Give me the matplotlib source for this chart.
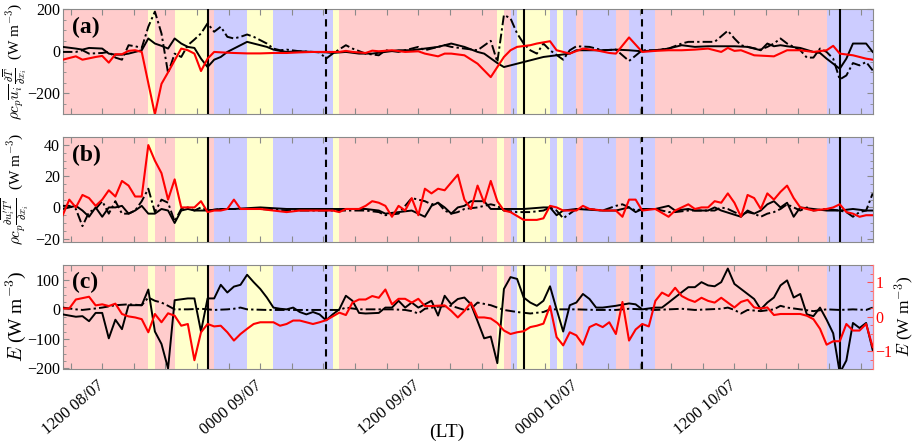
import numpy as np
import matplotlib
matplotlib.use("Agg")
import matplotlib.pyplot as plt
from matplotlib.ticker import MultipleLocator

plt.rcParams['font.family'] = ['Liberation Serif', 'DejaVu Serif']
plt.rcParams['mathtext.fontset'] = 'cm'

# ---------------- data (time in hours since 0000 08/07, LT) ----------------
# (a) advection term
a_solid_t = [9.0, 10.0, 10.5, 11.0, 12.0, 12.5, 13.0, 13.5, 14.0, 14.5, 15.0, 15.5, 16.0, 16.5, 17.0, 17.5,
             18.0, 18.5, 19.0, 19.5, 20.0, 20.5, 21.0, 21.5, 22.0, 22.5, 23.0, 23.5, 24.0, 24.5, 25.0, 25.5,
             26.0, 27.0, 28.0, 29.0, 29.5, 30.5, 31.5, 32.5, 33.5, 34.5, 35.5, 36.5, 37.5, 38.5, 39.5, 40.5,
             41.0, 42.0, 42.5, 43.0, 43.5, 44.5, 45.5, 46.5, 47.5, 48.0, 49.0, 50.0, 51.0, 52.0, 53.0, 54.0,
             55.0, 56.0, 57.0, 58.0, 59.0, 60.0, 61.0, 62.0, 62.5, 63.0, 63.5, 64.0, 65.0, 66.0, 66.5, 67.0,
             68.0, 68.5, 69.0, 70.0, 70.5]
a_solid_v = [21, 13, 8, 16, 13, -11, -16, -16, -11, -3, 5, 61, 37, 26, 13, 61,
             37, 21, 16, -35, -75, -40, -27, -3, 13, 29, 45, 37, 29, 21, 8, 2,
             -3, 0, -3, -5, -8, -3, -11, -11, -3, 5, 5, 13, 21, 37, 21, -3,
             -11, -56, -75, -67, -59, -43, -27, -19, -11, 5, 5, 5, 8, 5, 0, 5,
             13, 29, 21, 24, 24, 24, 21, 5, 37, 24, 29, 24, 16, -3, -8, -35,
             -83, -35, 37, 37, -3]

a_dash_t = [9.0, 10.0, 10.5, 11.0, 12.0, 12.5, 13.0, 13.5, 14.0, 14.5, 15.0, 15.5, 16.0, 16.5, 17.0, 17.5,
            18.0, 18.5, 19.0, 19.5, 20.0, 20.5, 21.0, 21.5, 22.0, 22.5, 23.0, 23.5, 24.0, 24.5, 25.0, 25.5,
            26.0, 27.0, 28.0, 28.5, 29.0, 29.5, 30.5, 31.0, 32.0, 33.0, 33.5, 34.5, 35.5, 36.0, 36.5, 37.0,
            38.0, 38.5, 39.5, 40.5, 41.5, 42.0, 42.5, 43.0, 43.5, 44.0, 44.5, 45.0, 45.5, 46.0, 47.0, 47.5,
            48.0, 49.0, 50.0, 51.0, 52.0, 53.0, 54.0, 55.0, 56.0, 56.5, 57.5, 58.5, 59.5, 60.0, 60.5, 61.0,
            62.0, 62.5, 63.0, 63.5, 64.0, 64.5, 65.0, 65.5, 66.0, 66.5, 67.0, 67.5, 68.0, 68.5, 69.0, 69.5,
            70.0, 70.5]
a_dash_v = [-3, -3, 5, -11, -8, -3, -30, -40, 29, 24, 16, 117, 189, 85, -104, -11,
            -27, 29, 56, 85, 133, 93, 117, 69, 61, 69, 80, 69, 53, 37, 13, 5,
            8, 0, -3, -5, -35, -11, 29, 13, -11, -19, 5, -3, 13, 21, 5, 13,
            29, 21, 13, 5, 50, -51, 173, 157, 85, 37, 5, -11, 37, 5, -40, 5,
            24, 21, 5, 8, -46, 5, 5, 13, 37, 45, 45, 45, 98, 61, 29, 21,
            8, 21, 37, 61, 37, 21, 5, -30, -30, 13, -3, -35, -134, -115, -56, -67,
            -51, -91]

a_red_t = [9.0, 10.0, 10.5, 11.5, 12.0, 12.5, 13.0, 13.5, 14.0, 14.5, 15.0, 16.0, 16.5, 17.0, 17.5, 18.0,
           18.5, 19.0, 19.5, 20.0, 20.5, 21.0, 22.0, 23.0, 24.0, 25.0, 26.0, 27.0, 28.0, 29.0, 30.0, 30.5,
           31.0, 32.0, 32.5, 33.0, 34.0, 35.0, 36.0, 36.5, 37.5, 38.0, 38.5, 39.5, 40.5, 41.5, 42.5, 43.0,
           43.5, 44.5, 45.0, 46.0, 46.5, 47.5, 48.5, 49.5, 50.5, 51.0, 52.0, 53.0, 54.0, 55.0, 56.0, 57.0,
           58.0, 59.0, 59.5, 60.0, 60.5, 61.5, 63.0, 64.0, 65.0, 66.0, 67.0, 67.5, 68.0, 69.0, 70.0, 70.5]
a_red_v = [-40, -24, -40, -27, -22, -54, -14, -14, 2, 5, -3, -300, -155, -100, -43, 13,
           5, -11, -94, -35, -3, -5, -8, -10, -10, -8, -8, -5, -3, -3, -3, 2,
           -3, -8, 3, 0, 5, -3, 0, -11, -24, -11, -11, -19, -59, -123, -27, 5,
           21, 29, 37, 48, 5, -11, 13, 5, -8, -11, 66, -3, 2, 5, 5, 8,
           13, -3, 16, 2, 5, -19, -24, 5, 5, -3, 5, 26, -11, -19, -35, -40]

# (b) turbulent flux divergence term
b_solid_t = [9.0, 9.5, 10.0, 10.5, 11.0, 11.5, 12.0, 12.5, 13.0, 13.5, 14.0, 14.5, 15.0, 15.5, 16.0, 16.5,
             17.0, 17.5, 18.0, 18.5, 19.0, 20.0, 21.0, 22.0, 24.0, 26.0, 27.0, 30.0, 32.0, 33.0, 33.5, 34.5,
             35.5, 36.5, 37.0, 37.5, 38.0, 38.5, 39.0, 39.5, 40.0, 40.5, 41.0, 41.5, 42.5, 44.0, 45.5, 46.0,
             46.5, 47.0, 48.0, 50.0, 51.0, 52.0, 52.5, 53.0, 54.0, 55.0, 55.5, 56.5, 57.0, 58.0, 58.5, 59.0,
             60.5, 61.0, 61.5, 62.0, 62.5, 63.0, 63.5, 64.0, 64.5, 65.0, 66.0, 67.0, 68.0, 69.0, 70.0, 70.5]
b_solid_v = [-1, 0, 1, -2, -6, 0, -6, 0, 0, 1, -4, -2, 1, -4, -4, -1,
             -2, -10, -2, -1, -2, -2, -1, -1, 0, -1, -1, -1, -1, -2, -4, -3,
             -2, -6, 1, 3, 0, -4, 0, 1, 4, 4, 4, -1, -1, -1, 0, 0,
             -5, -2, -1, -2, -2, 0, -3, -1, -1, 1, -2, -1, -2, -2, 0, -2,
             -6, -2, -4, -2, 2, 4, 0, 3, -6, 0, -1, -2, -2, -1, -2, -2]

b_dash_t = [9.0, 9.5, 10.0, 10.5, 11.0, 11.5, 12.0, 12.5, 13.0, 13.5, 14.0, 14.5, 15.0, 15.5, 16.0, 16.5,
            17.0, 17.5, 18.0, 18.5, 19.0, 19.5, 20.0, 21.0, 22.0, 24.0, 26.0, 28.0, 30.0, 32.0, 33.0, 33.5,
            34.5, 35.5, 36.5, 37.0, 37.5, 38.0, 38.5, 39.0, 39.5, 40.5, 41.5, 42.0, 42.5, 43.5, 44.5, 45.5,
            46.0, 46.5, 47.0, 48.0, 49.0, 50.0, 51.0, 51.5, 52.0, 52.5, 53.0, 54.0, 55.0, 55.5, 56.5, 57.5,
            58.5, 59.0, 59.5, 60.5, 61.0, 61.5, 62.0, 62.5, 63.0, 63.5, 64.0, 64.5, 65.0, 65.5, 66.0, 67.0,
            68.0, 68.5, 69.0, 69.5, 70.0, 70.5]
b_dash_v = [1, 1, -1, -12, -3, -1, 4, -4, 4, -4, -4, -2, 4, 12, -3, 5,
            3, -9, -1, 0, -2, 0, -2, -1, -1, -1, -2, -2, -2, -2, -3, -5,
            -4, 6, 4, 2, 3, -2, -4, -3, -1, 0, 2, 1, -2, -3, -3, -2,
            0, -2, -7, -1, -1, -2, 1, 2, 0, -2, -1, -1, -3, -3, -2, -2,
            -2, 0, -1, -5, -3, -4, -6, -4, -3, -1, 2, 0, -2, 0, -2, -1,
            -2, -3, -6, -3, -2, 9]

b_red_t = [9.0, 9.5, 10.0, 10.5, 11.0, 11.5, 12.0, 12.5, 13.0, 13.5, 14.0, 14.5, 15.0, 15.5, 16.0, 16.5,
           17.0, 17.5, 18.0, 18.5, 19.0, 19.5, 20.0, 20.5, 21.0, 21.5, 22.0, 22.5, 23.0, 24.0, 25.0, 26.0,
           27.0, 28.5, 29.5, 30.0, 30.5, 31.5, 32.0, 32.5, 33.0, 33.5, 34.0, 34.5, 35.0, 35.5, 36.0, 36.5,
           37.0, 37.5, 38.0, 39.0, 39.5, 40.0, 40.5, 41.0, 41.5, 42.0, 42.5, 43.0, 44.0, 45.0, 45.5, 46.0,
           46.5, 47.0, 48.0, 48.5, 49.0, 50.0, 51.0, 51.5, 52.0, 52.5, 53.0, 54.0, 55.0, 55.5, 56.5, 57.0,
           57.5, 58.0, 58.5, 59.0, 59.5, 60.0, 60.5, 61.0, 61.5, 62.0, 62.5, 63.0, 63.5, 64.0, 64.5, 65.0,
           66.0, 67.0, 67.5, 68.0, 68.5, 69.0, 69.5, 70.0, 70.5]
b_red_v = [-5, 5, 0, 8, 6, 1, 5, 11, 7, 17, 14, 7, 7, 40, 30, 22,
           5, 18, 0, 0, 0, 4, -3, -2, -2, -1, 5, -1, -1, -1, -2, -3,
           -2, -2, -2, -3, -1, -1, 1, 4, 3, 1, -6, 1, -2, 6, -5, 12,
           9, 12, 11, 21, 5, -1, 14, 3, 17, 4, -2, -3, -8, -8, -7, 1,
           0, -2, -2, 1, -1, -2, -2, -6, 5, 5, -2, -1, -6, -2, 2, -1,
           0, 0, 4, 3, 9, 3, -6, 8, 6, -1, 9, 5, 10, 14, 6, 0,
           -2, -1, 0, 2, -3, -4, -6, -5, -5]

# (c) E, left axis (black) and right axis (red)
c_solid_t = [9.0, 9.5, 10.0, 10.5, 11.0, 11.5, 12.0, 12.5, 13.0, 13.5, 14.0, 14.5, 15.0, 15.5, 16.0, 16.5,
             17.0, 17.5, 18.0, 18.5, 19.0, 19.5, 20.0, 20.5, 21.0, 21.5, 22.0, 22.5, 23.0, 23.5, 24.0, 24.5,
             25.0, 25.5, 26.0, 26.5, 27.0, 27.5, 28.0, 28.5, 29.0, 29.5, 30.0, 30.5, 31.0, 31.5, 32.0, 33.0,
             33.5, 34.0, 34.5, 35.0, 35.5, 36.0, 36.5, 37.0, 37.5, 38.0, 38.5, 39.0, 39.5, 40.0, 40.5, 41.0,
             41.5, 42.0, 42.5, 43.0, 43.5, 44.0, 44.5, 45.0, 45.5, 46.0, 46.5, 47.0, 47.5, 48.0, 48.5, 49.0,
             49.5, 50.0, 51.0, 52.0, 52.5, 53.0, 54.0, 54.5, 55.0, 56.0, 56.5, 57.0, 57.5, 58.0, 58.5, 59.0,
             59.5, 60.0, 60.5, 61.0, 61.5, 62.0, 62.5, 63.0, 63.5, 64.0, 64.5, 65.0, 65.5, 66.0, 66.5, 67.0,
             67.5, 68.0, 68.5, 69.0, 69.5, 70.0, 70.5]
c_solid_v = [-17, -21, -25, -23, -40, -12, -12, -98, -35, -67, 14, 14, 14, 67, -75, -117,
             -200, 31, 34, 37, 37, -75, 37, 37, 83, 57, 77, 83, 117, 92, 69, 40,
             6, 2, 0, 6, -9, -17, -9, -17, -37, -17, 0, 46, 29, -12, -14, -12,
             6, 6, 29, 6, 23, 6, 17, 29, -21, 46, 17, 35, 40, 17, -40, -98,
             -92, -182, 69, 109, 103, 40, 23, 12, 29, 78, 0, -75, 14, 23, 52, 35,
             6, 6, 12, 20, 17, 0, 6, 6, 23, 58, 75, 75, 92, 81, 78, 92,
             138, 86, 69, 52, 35, 0, 23, 40, 81, 98, 40, 52, -17, -23, 6, -35,
             -81, -215, -173, -46, -63, -46, -138]

c_dash_t = [9.0, 10.0, 10.5, 11.5, 12.0, 13.0, 14.0, 15.0, 15.5, 16.0, 16.5, 17.0, 17.5, 18.5, 19.5, 20.5,
            21.5, 22.0, 22.5, 23.0, 24.5, 26.5, 28.0, 29.0, 30.0, 30.5, 31.5, 33.0, 34.0, 35.0, 35.5, 36.0,
            36.5, 37.5, 38.5, 39.5, 40.0, 40.5, 41.5, 42.5, 43.5, 44.5, 45.5, 46.0, 47.0, 48.0, 49.5, 51.0,
            52.0, 53.0, 54.0, 55.0, 56.0, 57.0, 58.0, 59.0, 59.5, 60.0, 60.5, 61.0, 62.0, 63.0, 63.5, 64.0,
            65.0, 66.0, 67.0, 68.0, 69.0, 70.0, 70.5]
c_dash_v = [6, 0, -2, 3, 6, 14, 17, 14, 40, 29, 23, 12, 0, 0, 2, -2,
            0, 2, 6, 0, -2, -2, -2, -2, -2, 6, 0, 0, 0, -2, -6, -14,
            2, 9, 12, -2, 2, 23, 14, -2, -9, -14, -9, 0, 0, 0, -2, -2,
            2, 0, -2, 0, 2, -2, 0, 2, 6, -2, -14, -2, -6, 0, 12, 6,
            0, -6, 0, -2, 0, -2, 6]

c_red_t = [9.0, 9.5, 10.0, 11.0, 11.5, 12.0, 12.5, 13.0, 13.5, 14.0, 14.5, 15.0, 15.5, 16.0, 16.5, 17.0,
           17.5, 18.0, 18.5, 19.0, 19.5, 20.0, 20.5, 21.0, 21.5, 22.0, 22.5, 23.0, 23.5, 24.0, 25.0, 25.5,
           26.0, 26.5, 27.0, 27.5, 28.0, 28.5, 29.0, 30.0, 30.5, 31.0, 31.5, 32.0, 32.5, 33.0, 33.5, 34.0,
           34.5, 35.0, 35.5, 36.0, 36.5, 37.0, 38.0, 38.5, 39.0, 39.5, 40.0, 40.5, 41.0, 41.5, 42.0, 42.5,
           43.0, 43.5, 44.0, 44.5, 45.0, 45.5, 46.0, 46.5, 47.0, 47.5, 48.0, 48.5, 49.0, 49.5, 50.0, 50.5,
           51.0, 51.5, 52.0, 52.5, 53.0, 53.5, 54.0, 54.5, 55.0, 55.5, 56.0, 56.5, 57.0, 57.5, 58.0, 58.5,
           59.0, 59.5, 60.0, 60.5, 61.0, 61.5, 62.0, 62.5, 63.0, 63.5, 65.0, 65.5, 66.0, 66.5, 67.0, 67.5,
           68.0, 68.5, 69.0, 69.5, 70.0, 70.5]
c_red_v = [0.24, 0.24, 0.50, 0.58, 0.33, 0.36, 0.31, 0.38, 0.08, 0.01, -0.02, -0.07, -0.45, 0.08, -0.16, 0.10,
           0.03, -0.26, -0.21, -1.26, -0.45, -0.21, -0.28, -0.26, -0.45, -0.69, -0.50, -0.35, -0.21, -0.16, -0.16, -0.26,
           -0.21, -0.11, -0.11, -0.16, -0.21, -0.16, -0.10, 0.12, 0.05, 0.41, 0.50, 0.50, 0.60, 0.55, 0.79, 0.36,
           0.52, 0.52, 0.41, 0.52, 0.31, 0.31, 0.33, 0.17, -0.02, 0.17, 0.41, -0.02, -0.02, -0.05, -0.18, -0.40,
           -0.50, -0.45, -0.42, -0.30, -0.26, -0.20, 0.31, -0.59, -0.83, -0.45, -0.54, -0.81, -0.30, -0.21, -0.30, -0.16,
           -0.50, 0.43, -0.69, -0.37, -0.21, -0.28, 0.46, 0.70, 0.60, 0.84, 0.60, 0.50, 0.43, 0.55, 0.46, 0.41,
           0.55, 0.41, 0.27, 0.43, 0.49, 0.27, 0.24, 0.27, 0.05, 0.08, 0.08, 0.03, -0.07, -0.35, -0.81, -0.71,
           -0.71, -0.21, -0.40, -0.40, -0.21, -0.88]

# regime shading: (start hour, end hour, regime)
regime_start = [9.0, 15.5, 16.0, 17.5, 20.0, 20.5, 23.0, 25.0, 29.5, 30.0, 42.0, 42.5, 43.0, 43.5, 46.0, 46.5,
                47.0, 48.0, 48.5, 51.0, 52.0, 54.0, 67.0]
regime_end = [15.5, 16.0, 17.5, 20.0, 20.5, 23.0, 25.0, 29.5, 30.0, 42.0, 42.5, 43.0, 43.5, 46.0, 46.5, 47.0,
              48.0, 48.5, 51.0, 52.0, 54.0, 67.0, 70.5]
regime_kind = ['P', 'Y', 'P', 'Y', 'P', 'B', 'Y', 'B', 'Y', 'P', 'Y', 'P', 'B', 'Y', 'B', 'Y',
               'B', 'P', 'B', 'P', 'B', 'P', 'B']
regime_color = {'P': '#ffcccc', 'Y': '#ffffcc', 'B': '#ccccff'}

sunset_hours = [20.0, 44.0, 68.0]
sunrise_hours = [29.0, 53.0]

date_tick_hours = [12, 24, 36, 48, 60]
date_tick_labels = ['1200 08/07', '0000 09/07', '1200 09/07', '0000 10/07', '1200 10/07']

# ---------------- figure ----------------
W, H = 915, 443
fig = plt.figure(figsize=(W / 100, H / 100), dpi=100)


def px_axes(left, top, right, bottom):
    return fig.add_axes([left / W, 1 - bottom / H, (right - left) / W, (bottom - top) / H])


ax_a = px_axes(62.7, 9.3, 872.7, 114.3)
ax_b = px_axes(62.7, 137.3, 872.7, 241.7)
ax_c = px_axes(62.7, 265.0, 872.7, 368.5)

spine_col = '#8a8a8a'
minor_x = np.round(np.arange(4, 30) * 2.4, 2)
minor_x = minor_x[(minor_x >= 9.0) & (minor_x <= 70.5)]

for ax in (ax_a, ax_b, ax_c):
    for s, e, k in zip(regime_start, regime_end, regime_kind):
        ax.axvspan(s, e, color=regime_color[k], lw=0, zorder=0)
    for h in sunset_hours:
        ax.axvline(h, color='k', lw=1.5, zorder=3)
    for h in sunrise_hours:
        ax.axvline(h, color='k', lw=1.5, ls=(0, (3.5, 2.5)), zorder=3)
    ax.set_xlim(9.0, 70.5)
    ax.set_xticks(minor_x)
    ax.set_xticklabels([])
    for sp in ax.spines.values():
        sp.set_color(spine_col)
        sp.set_linewidth(0.8)
    ax.tick_params(which='both', direction='in', top=True, right=True, colors=spine_col,
                   labelcolor='k', labelsize=11.5, pad=2)
    ax.tick_params(which='major', length=4)
    ax.tick_params(which='minor', length=2.5)

dashdot = (0, (5, 1.6, 1.2, 1.6))

# panel (a)
ax_a.plot(a_solid_t, a_solid_v, color='k', lw=1.4, zorder=4)
ax_a.plot(a_dash_t, a_dash_v, color='k', lw=1.4, ls=dashdot, zorder=4)
ax_a.plot(a_red_t, a_red_v, color='#ff0000', lw=1.5, zorder=5)
ax_a.set_ylim(-300, 200)
ax_a.set_yticks([-200, 0, 200])
ax_a.yaxis.set_minor_locator(MultipleLocator(50))

# panel (b)
ax_b.plot(b_solid_t, b_solid_v, color='k', lw=1.4, zorder=4)
ax_b.plot(b_dash_t, b_dash_v, color='k', lw=1.4, ls=dashdot, zorder=4)
ax_b.plot(b_red_t, b_red_v, color='#ff0000', lw=1.5, zorder=5)
ax_b.set_ylim(-22, 45)
ax_b.set_yticks([-20, 0, 20, 40])
ax_b.yaxis.set_minor_locator(MultipleLocator(5))

# panel (c)
ax_c.plot(c_solid_t, c_solid_v, color='k', lw=1.4, zorder=4)
ax_c.plot(c_dash_t, c_dash_v, color='k', lw=1.4, ls=dashdot, zorder=4)
ax_c.set_ylim(-200, 150)
ax_c.set_yticks([-200, -100, 0, 100])
ax_c.yaxis.set_minor_locator(MultipleLocator(25))
ax_c.tick_params(which='both', right=False)
labels = []
for t in minor_x:
    lab = ''
    for dh, dl in zip(date_tick_hours, date_tick_labels):
        if abs(t - dh) < 1e-6:
            lab = dl
    labels.append(lab)
ax_c.set_xticklabels(labels, rotation=40, ha='right', va='center', rotation_mode='anchor', fontsize=12)
ax_c.tick_params(axis='x', pad=11)

ax_cr = ax_c.twinx()
ax_cr.plot(c_red_t, c_red_v, color='#ff0000', lw=1.5, zorder=5)
ax_cr.set_xlim(9.0, 70.5)
ax_cr.set_ylim(-1.5, 1.5)
ax_cr.set_yticks([-1, 0, 1])
ax_cr.yaxis.set_minor_locator(MultipleLocator(0.25))
ax_cr.tick_params(which='both', direction='in', colors='#ff5050', labelcolor='#ff0000',
                  labelsize=11.5, pad=2)
ax_cr.tick_params(which='major', length=4)
ax_cr.tick_params(which='minor', length=2.5)
for sp in ax_cr.spines.values():
    sp.set_visible(False)
ax_cr.spines['right'].set_visible(True)
ax_cr.spines['right'].set_color('#ff8080')
ax_cr.spines['right'].set_linewidth(0.8)

# panel letters
for ax, lab in ((ax_a, '(a)'), (ax_b, '(b)'), (ax_c, '(c)')):
    ax.text(0.012, 0.93, lab, transform=ax.transAxes, fontsize=17, fontweight='bold',
            va='top', ha='left', zorder=10)

# axis labels
fig.text(15 / W, 1 - 61 / H,
         r'$\rho c_p \overline{u_i}\,\frac{\partial \overline{T}}{\partial x_i}$  (W m$^{-3}$)',
         rotation=90, ha='center', va='center', fontsize=11)
fig.text(15 / W, 1 - 189 / H,
         r"$\rho c_p \frac{\partial \overline{u_i^{\prime} T^{\prime}}}{\partial x_i}$  (W m$^{-3}$)",
         rotation=90, ha='center', va='center', fontsize=11)
fig.text(16 / W, 1 - 316 / H, r'$E$ (W m$^{-3}$)', rotation=90, ha='center', va='center', fontsize=14)
fig.text(904 / W, 1 - 316 / H, r'$E$ (W m$^{-3}$)', rotation=90, ha='center', va='center', fontsize=12.5)
fig.text(447 / W, 1 - 432 / H, '(LT)', ha='center', va='center', fontsize=14)

fig.savefig('out.png', dpi=100)
